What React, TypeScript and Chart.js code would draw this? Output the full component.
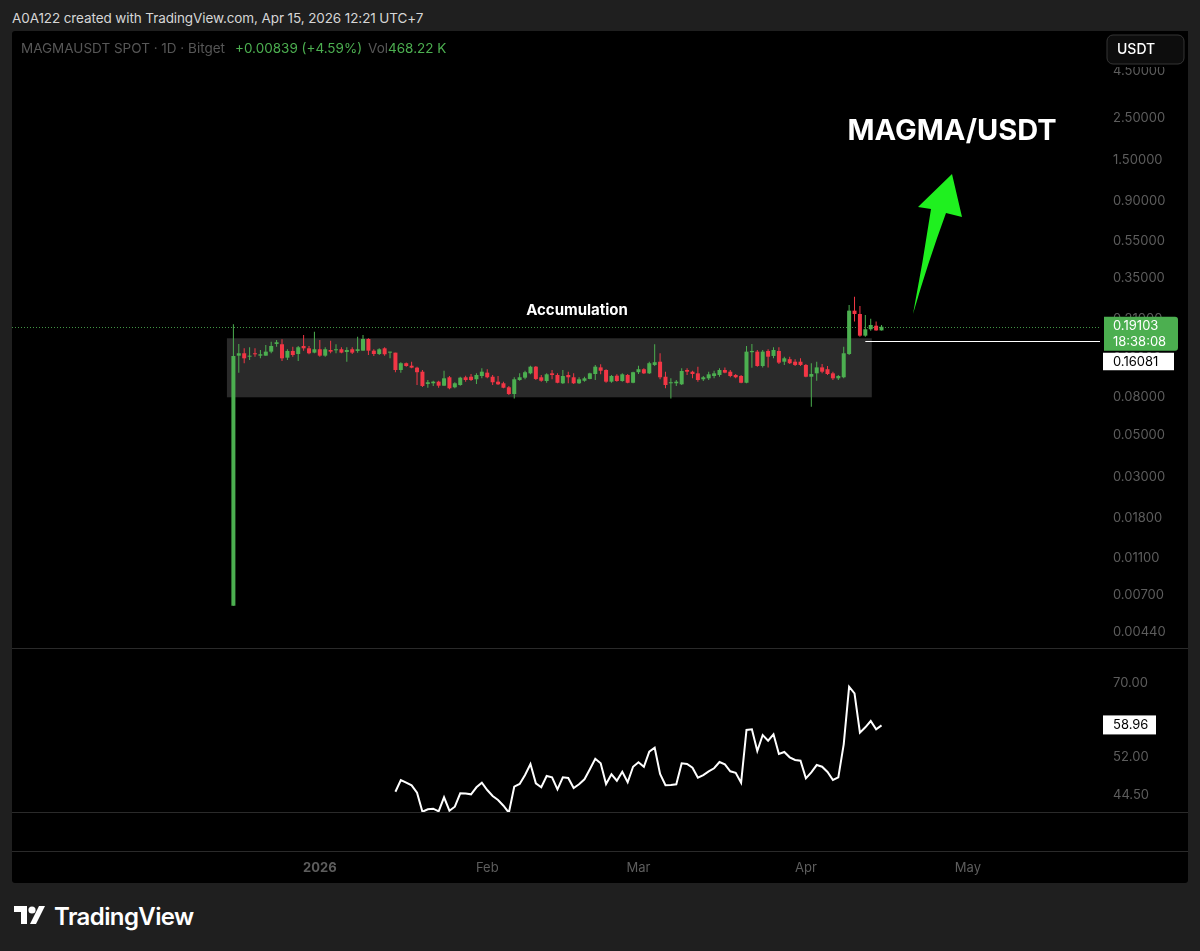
import React, { useEffect, useRef } from 'react';
import { Chart, registerables } from 'chart.js';

Chart.register(...registerables);

// ---- data -------------------------------------------------------------
// day offsets are counted from Jan 1, 2026 (first candle = Dec 16, 2025)
const FIRST_DAY = -16;
const OPEN = [
  0.0061, 0.1337, 0.1377, 0.1320, 0.1377, 0.1337, 0.1337, 0.1405, 0.1545, 0.1539,
  0.1304, 0.1417, 0.1365, 0.1507, 0.1464, 0.1388, 0.1447, 0.1337, 0.1434, 0.1429,
  0.1447, 0.1399, 0.1447, 0.1417, 0.1422, 0.1643, 0.1422, 0.1365, 0.1464, 0.1388,
  0.1388, 0.1120, 0.1218, 0.1181, 0.1153, 0.1097, 0.0943, 0.0951, 0.0970, 0.0923,
  0.1024, 0.0905, 0.0931, 0.1024, 0.1031, 0.0999, 0.1040, 0.1084, 0.1031, 0.0970,
  0.0951, 0.0905, 0.0833, 0.0990, 0.1019, 0.1075, 0.1167, 0.1024, 0.0978, 0.1075,
  0.1053, 0.0951, 0.1053, 0.1024, 0.0951, 0.0981, 0.1003, 0.1066, 0.1157, 0.1120,
  0.0970, 0.1044, 0.0978, 0.1053, 0.0957, 0.1090, 0.1131, 0.1075, 0.1192, 0.1241,
  0.1031, 0.0951, 0.0951, 0.0939, 0.1120, 0.1097, 0.1075, 0.0999, 0.1011, 0.1040,
  0.1053, 0.1120, 0.1097, 0.1053, 0.1040, 0.0957, 0.1395, 0.1405, 0.1177, 0.1417,
  0.1332, 0.1417, 0.1241, 0.1280, 0.1241, 0.1241, 0.1192, 0.1031, 0.1075, 0.1157,
  0.1131, 0.1075, 0.1011, 0.1024, 0.1365, 0.2330, 0.2236, 0.1711, 0.1852, 0.1935,
  0.1826,
];
const HIGH = [
  0.1970, 0.1545, 0.1464, 0.1483, 0.1464, 0.1434, 0.1526, 0.1589, 0.1622, 0.1636,
  0.1447, 0.1494, 0.1507, 0.1726, 0.1507, 0.1797, 0.1622, 0.1483, 0.1608, 0.1539,
  0.1483, 0.1483, 0.1483, 0.1690, 0.1726, 0.1657, 0.1447, 0.1464, 0.1483, 0.1405,
  0.1388, 0.1233, 0.1227, 0.1241, 0.1167, 0.1120, 0.0990, 0.0981, 0.0981, 0.1110,
  0.1040, 0.0963, 0.1031, 0.1044, 0.1066, 0.1075, 0.1145, 0.1131, 0.1053, 0.1040,
  0.0970, 0.0920, 0.1024, 0.1075, 0.1110, 0.1181, 0.1177, 0.1053, 0.1075, 0.1120,
  0.1075, 0.1120, 0.1097, 0.1075, 0.1024, 0.1031, 0.1084, 0.1192, 0.1203, 0.1131,
  0.1053, 0.1062, 0.1075, 0.1066, 0.1097, 0.1181, 0.1145, 0.1241, 0.1539, 0.1377,
  0.1097, 0.1011, 0.0990, 0.1145, 0.1145, 0.1110, 0.1167, 0.1040, 0.1097, 0.1110,
  0.1145, 0.1157, 0.1120, 0.1066, 0.1053, 0.1507, 0.1545, 0.1434, 0.1434, 0.1447,
  0.1483, 0.1483, 0.1320, 0.1320, 0.1280, 0.1294, 0.1207, 0.1218, 0.1241, 0.1207,
  0.1177, 0.1097, 0.1053, 0.1494, 0.2499, 0.2768, 0.2468, 0.2209, 0.2107, 0.2036,
  0.1952,
];
const LOW = [
  0.0061, 0.1084, 0.1218, 0.1268, 0.1320, 0.1294, 0.1337, 0.1377, 0.1494, 0.1252,
  0.1268, 0.1320, 0.1252, 0.1422, 0.1360, 0.1377, 0.1320, 0.1320, 0.1377, 0.1377,
  0.1377, 0.1241, 0.1365, 0.1388, 0.1422, 0.1348, 0.1332, 0.1348, 0.1337, 0.1294,
  0.1090, 0.1084, 0.1167, 0.1145, 0.0931, 0.0908, 0.0900, 0.0920, 0.0900, 0.0920,
  0.0883, 0.0894, 0.0923, 0.0970, 0.0978, 0.0943, 0.1011, 0.1011, 0.0931, 0.0931,
  0.0894, 0.0823, 0.0789, 0.0981, 0.0999, 0.1062, 0.0990, 0.0970, 0.0957, 0.0999,
  0.0951, 0.0943, 0.0951, 0.0943, 0.0943, 0.0970, 0.0999, 0.0990, 0.1062, 0.0957,
  0.0957, 0.0970, 0.0970, 0.0951, 0.0951, 0.1066, 0.1066, 0.1066, 0.1177, 0.0999,
  0.0894, 0.0789, 0.0920, 0.0931, 0.1053, 0.1011, 0.0970, 0.0978, 0.0990, 0.1011,
  0.1031, 0.1075, 0.1024, 0.1011, 0.0951, 0.0951, 0.1153, 0.1167, 0.1157, 0.1157,
  0.1294, 0.1207, 0.1192, 0.1207, 0.1177, 0.1177, 0.1024, 0.0712, 0.0981, 0.1075,
  0.1053, 0.0990, 0.0990, 0.1011, 0.1348, 0.2036, 0.1690, 0.1690, 0.1820, 0.1820,
  0.1826,
];
const CLOSE = [
  0.1332, 0.1377, 0.1294, 0.1337, 0.1360, 0.1360, 0.1405, 0.1507, 0.1577, 0.1294,
  0.1417, 0.1348, 0.1483, 0.1464, 0.1377, 0.1447, 0.1337, 0.1447, 0.1405, 0.1447,
  0.1388, 0.1434, 0.1388, 0.1447, 0.1643, 0.1422, 0.1365, 0.1447, 0.1360, 0.1405,
  0.1120, 0.1218, 0.1177, 0.1153, 0.1090, 0.0920, 0.0963, 0.0970, 0.0923, 0.1011,
  0.0894, 0.0951, 0.1019, 0.0990, 0.0990, 0.1053, 0.1097, 0.1024, 0.0963, 0.0939,
  0.0900, 0.0833, 0.0999, 0.1024, 0.1090, 0.1167, 0.1003, 0.0981, 0.1062, 0.1053,
  0.0957, 0.1040, 0.1024, 0.0951, 0.0999, 0.1011, 0.1075, 0.1167, 0.1110, 0.0970,
  0.1040, 0.0978, 0.1062, 0.0957, 0.1090, 0.1131, 0.1075, 0.1218, 0.1233, 0.1024,
  0.0931, 0.0963, 0.0970, 0.1107, 0.1097, 0.1066, 0.0990, 0.1024, 0.1062, 0.1075,
  0.1120, 0.1084, 0.1040, 0.1024, 0.0957, 0.1405, 0.1417, 0.1177, 0.1405, 0.1320,
  0.1434, 0.1227, 0.1294, 0.1218, 0.1192, 0.1192, 0.1031, 0.1066, 0.1157, 0.1097,
  0.1066, 0.1011, 0.1040, 0.1377, 0.2330, 0.2236, 0.1711, 0.1852, 0.1952, 0.1826,
  0.19103,
];

const RSI_FIRST_DAY = 14;
const RSI = [
  45.18, 47.36, 46.85, 46.36, 45.00, 41.69, 42.10, 42.20, 41.76, 44.18,
  41.86, 42.54, 44.89, 44.85, 44.71, 45.99, 46.85, 45.49, 44.41, 43.70,
  42.71, 41.53, 46.10, 46.60, 48.31, 50.50, 46.73, 45.99, 48.12, 47.87,
  45.62, 47.87, 47.74, 45.86, 46.54, 47.49, 49.44, 51.58, 50.64, 46.60,
  48.45, 47.22, 48.96, 46.92, 49.95, 50.84, 49.95, 53.05, 53.91, 48.51,
  46.36, 46.42, 46.54, 50.64, 50.50, 49.75, 47.80, 48.31, 49.04, 49.64,
  50.90, 50.44, 49.04, 48.76, 46.85, 57.89, 58.05, 53.21, 56.73, 55.45,
  56.90, 52.57, 52.99, 51.87, 51.32, 51.17, 47.68, 48.84, 50.29, 49.95,
  48.90, 47.36, 47.87, 54.65, 68.88, 67.08, 57.26, 58.52, 60.02, 58.05,
  58.96,
];

const PRICE_TICKS = [4.5, 2.5, 1.5, 0.9, 0.55, 0.35, 0.21, 0.13, 0.08, 0.05, 0.03, 0.018, 0.011, 0.007, 0.0044];
const RSI_TICKS = [70, 52, 44.5];
const X_TICK_DAYS = [0, 31, 59, 90, 120];
const X_TICK_LABELS = ['2026', 'Feb', 'Mar', 'Apr', 'May'];

const LAST_PRICE = 0.19103;
const LAST_PRICE_TIME = '18:38:08';
const LINE_PRICE = 0.16081;
const LINE_START_DAY = 101;
const RSI_LAST = 58.96;
const BOX_FROM_DAY = -17.2;
const BOX_TO_DAY = 102.2;
const BOX_LOW = 0.08;
const BOX_HIGH = 0.1657;

// visible ranges
const X_MIN = -56.99;
const X_MAX = 144.45;
const PRICE_MIN = 0.003627;
const PRICE_MAX = 7.344;
const RSI_MIN = 41.48;
const RSI_MAX = 80.14;

// ---- style -------------------------------------------------------------
const FONT = "Inter, 'Noto Sans', 'Liberation Sans', sans-serif";
const GREEN = '#4caf50';
const RED = '#f23645';
const AXIS_TEXT = '#5d5d5d';
const SEP = '#2a2a2a';

export default function App() {
  const mainRef = useRef<HTMLCanvasElement | null>(null);
  const rsiRef = useRef<HTMLCanvasElement | null>(null);

  useEffect(() => {
    Chart.defaults.font.family = FONT;
    const days = OPEN.map((_, i) => FIRST_DAY + i);
    const colors = OPEN.map((o, i) => (CLOSE[i] >= o ? GREEN : RED));

    const mainDecor = {
      id: 'mainDecor',
      beforeDatasetsDraw(chart: any) {
        const { ctx, chartArea: a, scales } = chart;
        const x = scales.x, y = scales.y;
        ctx.save();
        const bx0 = x.getPixelForValue(BOX_FROM_DAY);
        const bx1 = x.getPixelForValue(BOX_TO_DAY);
        const by0 = y.getPixelForValue(BOX_HIGH);
        const by1 = y.getPixelForValue(BOX_LOW);
        ctx.fillStyle = '#2a2a2a';
        ctx.fillRect(bx0, by0, bx1 - bx0, by1 - by0);
        const py = Math.round(y.getPixelForValue(LAST_PRICE)) + 0.5;
        ctx.strokeStyle = GREEN;
        ctx.globalAlpha = 0.85;
        ctx.setLineDash([1, 2]);
        ctx.lineWidth = 1;
        ctx.beginPath();
        ctx.moveTo(a.left, py);
        ctx.lineTo(a.right, py);
        ctx.stroke();
        ctx.restore();
      },
      afterDatasetsDraw(chart: any) {
        const { ctx, chartArea: a, scales } = chart;
        const x = scales.x, y = scales.y;
        ctx.save();
        const ly = Math.round(y.getPixelForValue(LINE_PRICE)) + 0.5;
        ctx.strokeStyle = '#ffffff';
        ctx.lineWidth = 1;
        ctx.beginPath();
        ctx.moveTo(x.getPixelForValue(LINE_START_DAY), ly);
        ctx.lineTo(a.right, ly);
        ctx.stroke();

        ctx.fillStyle = '#ffffff';
        ctx.textAlign = 'center';
        ctx.textBaseline = 'middle';
        ctx.font = `bold 15px ${FONT}`;
        ctx.fillText('Accumulation', 565, 279);
        ctx.font = `bold 29px ${FONT}`;
        ctx.fillText('MAGMA/USDT', 940, 100);

        // green arrow
        ctx.fillStyle = '#1ff01f';
        ctx.beginPath();
        ctx.moveTo(901, 283);
        ctx.quadraticCurveTo(911, 231, 919, 178);
        ctx.lineTo(906, 176);
        ctx.lineTo(940, 143);
        ctx.lineTo(950, 186);
        ctx.lineTo(934, 182);
        ctx.quadraticCurveTo(916, 231, 901, 283);
        ctx.closePath();
        ctx.fill();
        ctx.restore();
      },
      afterDraw(chart: any) {
        const { ctx, scales } = chart;
        const y = scales.y;
        ctx.save();
        const py = y.getPixelForValue(LAST_PRICE);
        // last price label
        const gx = 1092, gw = 74, gt = py - 10, gh = 34;
        ctx.fillStyle = GREEN;
        ctx.beginPath();
        ctx.moveTo(gx, gt);
        ctx.lineTo(gx + gw - 3, gt);
        ctx.quadraticCurveTo(gx + gw, gt, gx + gw, gt + 3);
        ctx.lineTo(gx + gw, gt + gh - 3);
        ctx.quadraticCurveTo(gx + gw, gt + gh, gx + gw - 3, gt + gh);
        ctx.lineTo(gx, gt + gh);
        ctx.closePath();
        ctx.fill();
        ctx.fillStyle = '#ffffff';
        ctx.font = `13px ${FONT}`;
        ctx.textAlign = 'left';
        ctx.textBaseline = 'middle';
        ctx.fillText(LAST_PRICE.toFixed(5), 1101, gt + 9.5);
        ctx.fillText(LAST_PRICE_TIME, 1101, gt + 25.5);
        // white line label
        const wt = gt + gh + 2;
        ctx.fillStyle = '#ffffff';
        ctx.fillRect(1091, wt, 71, 17.5);
        ctx.fillStyle = '#000000';
        ctx.fillText(LINE_PRICE.toFixed(5), 1101, wt + 9);
        // USDT button (with its black backing strip over the axis)
        ctx.fillStyle = '#000000';
        ctx.fillRect(1089, 0, 87, 36);
        const ux = 1095, uy = 4, uw = 77, uh = 29, r = 6;
        ctx.beginPath();
        ctx.moveTo(ux + r, uy);
        ctx.arcTo(ux + uw, uy, ux + uw, uy + uh, r);
        ctx.arcTo(ux + uw, uy + uh, ux, uy + uh, r);
        ctx.arcTo(ux, uy + uh, ux, uy, r);
        ctx.arcTo(ux, uy, ux + uw, uy, r);
        ctx.closePath();
        ctx.fillStyle = '#0d0d0d';
        ctx.fill();
        ctx.strokeStyle = '#353535';
        ctx.lineWidth = 1;
        ctx.stroke();
        ctx.fillStyle = '#ffffff';
        ctx.font = `500 14px ${FONT}`;
        ctx.fillText('USDT', 1105, 19);
        ctx.restore();
      },
    };

    const main = new Chart(mainRef.current as HTMLCanvasElement, {
      type: 'bar',
      data: {
        datasets: [
          {
            type: 'bar',
            data: days.map((d, i) => ({ x: d, y: [LOW[i], HIGH[i]] })) as any,
            backgroundColor: colors,
            grouped: false,
            maxBarThickness: 1,
            categoryPercentage: 1,
            barPercentage: 1,
            inflateAmount: 0,
            borderWidth: 0,
            order: 2,
          } as any,
          {
            type: 'bar',
            data: days.map((d, i) => ({ x: d, y: [OPEN[i], CLOSE[i]] })) as any,
            backgroundColor: colors,
            grouped: false,
            maxBarThickness: 4,
            categoryPercentage: 1,
            barPercentage: 1,
            minBarLength: 1,
            inflateAmount: 0,
            borderWidth: 0,
            order: 1,
          } as any,
        ],
      },
      options: {
        animation: false,
        responsive: false,
        devicePixelRatio: 1,
        events: [],
        layout: { padding: 0 },
        plugins: { legend: { display: false }, tooltip: { enabled: false } },
        scales: {
          x: { type: 'linear', min: X_MIN, max: X_MAX, display: false, offset: false },
          y: {
            type: 'logarithmic',
            position: 'right',
            min: PRICE_MIN,
            max: PRICE_MAX,
            bounds: 'data',
            grid: { display: false, drawTicks: false },
            border: { display: false },
            ticks: {
              autoSkip: false,
              padding: 13,
              color: AXIS_TEXT,
              font: { size: 13, family: FONT },
              callback: (v: any) => Number(v).toFixed(5),
            },
            afterBuildTicks: (s: any) => {
              s.ticks = PRICE_TICKS.map((v) => ({ value: v }));
            },
            afterFit: (s: any) => {
              s.width = 88;
              s.paddingTop = 0;
              s.paddingBottom = 0;
            },
          } as any,
        },
      } as any,
      plugins: [mainDecor],
    });

    const rsiDecor = {
      id: 'rsiDecor',
      afterDraw(chart: any) {
        const { ctx, scales, width } = chart;
        const y = scales.y;
        ctx.save();
        ctx.strokeStyle = SEP;
        ctx.lineWidth = 1;
        [0.5, 164.5, 203.5].forEach((ly) => {
          ctx.beginPath();
          ctx.moveTo(0, ly);
          ctx.lineTo(width, ly);
          ctx.stroke();
        });
        const py = y.getPixelForValue(RSI_LAST);
        ctx.fillStyle = '#ffffff';
        ctx.fillRect(1091, py - 10, 53, 19);
        ctx.fillStyle = '#000000';
        ctx.font = `13px ${FONT}`;
        ctx.textAlign = 'left';
        ctx.textBaseline = 'middle';
        ctx.fillText(RSI_LAST.toFixed(2), 1101, py);
        ctx.restore();
      },
    };

    const rsi = new Chart(rsiRef.current as HTMLCanvasElement, {
      type: 'line',
      data: {
        datasets: [
          {
            data: RSI.map((v, i) => ({ x: RSI_FIRST_DAY + i, y: v })) as any,
            borderColor: '#ffffff',
            borderWidth: 2,
            pointRadius: 0,
            tension: 0,
            fill: false,
          },
        ],
      },
      options: {
        animation: false,
        responsive: false,
        devicePixelRatio: 1,
        events: [],
        layout: { padding: { top: 1, left: 0, right: 0, bottom: 0 } },
        plugins: { legend: { display: false }, tooltip: { enabled: false } },
        scales: {
          x: {
            type: 'linear',
            min: X_MIN,
            max: X_MAX,
            position: 'bottom',
            grid: { display: false, drawTicks: false },
            border: { display: false },
            ticks: {
              autoSkip: false,
              maxRotation: 0,
              padding: 47,
              color: AXIS_TEXT,
              font: (c: any) => ({
                size: 13,
                family: FONT,
                weight: c.tick && c.tick.value === 0 ? 'bold' : 'normal',
              }),
              callback: (v: any) => {
                const i = X_TICK_DAYS.indexOf(Number(v));
                return i >= 0 ? X_TICK_LABELS[i] : '';
              },
            },
            afterBuildTicks: (s: any) => {
              s.ticks = X_TICK_DAYS.map((v) => ({ value: v }));
            },
            afterFit: (s: any) => {
              s.height = 70;
              s.paddingLeft = 0;
              s.paddingRight = 0;
            },
          } as any,
          y: {
            type: 'logarithmic',
            position: 'right',
            min: RSI_MIN,
            max: RSI_MAX,
            bounds: 'data',
            grid: { display: false, drawTicks: false },
            border: { display: false },
            ticks: {
              autoSkip: false,
              padding: 13,
              color: AXIS_TEXT,
              font: { size: 13, family: FONT },
              callback: (v: any) => Number(v).toFixed(2),
            },
            afterBuildTicks: (s: any) => {
              s.ticks = RSI_TICKS.map((v) => ({ value: v }));
            },
            afterFit: (s: any) => {
              s.width = 88;
              s.paddingTop = 0;
              s.paddingBottom = 0;
            },
          } as any,
        },
      } as any,
      plugins: [rsiDecor],
    });

    return () => {
      main.destroy();
      rsi.destroy();
    };
  }, []);

  const abs = (left: number, top: number, extra: any = {}) => ({
    position: 'absolute' as const,
    left,
    top,
    whiteSpace: 'nowrap' as const,
    ...extra,
  });

  return (
    <div
      style={{
        position: 'absolute',
        left: 0,
        top: 0,
        width: 1200,
        height: 951,
        background: '#1f1f1f',
        overflow: 'hidden',
        fontFamily: FONT,
      }}
    >
      <div style={abs(12, 9, { fontSize: 13.5, lineHeight: '18px', color: '#d6d6d6', letterSpacing: '-0.1px' })}>
        A0A122 created with TradingView.com, Apr 15, 2026 12:21 UTC+7
      </div>
      <div style={abs(12, 31, { width: 1176, height: 852, background: '#000', borderRadius: 3 })} />
      <canvas ref={mainRef} width={1176} height={617} style={abs(12, 31, { width: 1176, height: 617 })} />
      <canvas ref={rsiRef} width={1176} height={235} style={abs(12, 648, { width: 1176, height: 235 })} />
      <div style={abs(21, 40, { fontSize: 13.5, lineHeight: '17px', color: '#575757' })}>
        MAGMAUSDT SPOT · 1D · Bitget
      </div>
      <div style={abs(235, 40, { fontSize: 13.5, lineHeight: '17px', color: GREEN })}>
        +0.00839 (+4.59%)
      </div>
      <div style={abs(368, 40, { fontSize: 13.5, lineHeight: '17px', color: '#575757' })}>
        Vol<span style={{ color: GREEN }}>468.22 K</span>
      </div>
      <svg style={abs(14, 906)} width={34} height={19} viewBox="0 0 34 19">
        <path d="M0 0 H13 V18 H7 V6 H0 Z" fill="#ffffff" />
        <circle cx={18} cy={4} r={3.6} fill="#ffffff" />
        <path d="M16 18 H22 L31 0 H25 Z" fill="#ffffff" />
      </svg>
      <div
        style={abs(54, 902, {
          fontSize: 24,
          lineHeight: '30px',
          fontWeight: 600,
          color: '#ffffff',
          letterSpacing: '-0.6px',
        })}
      >
        TradingView
      </div>
    </div>
  );
}
